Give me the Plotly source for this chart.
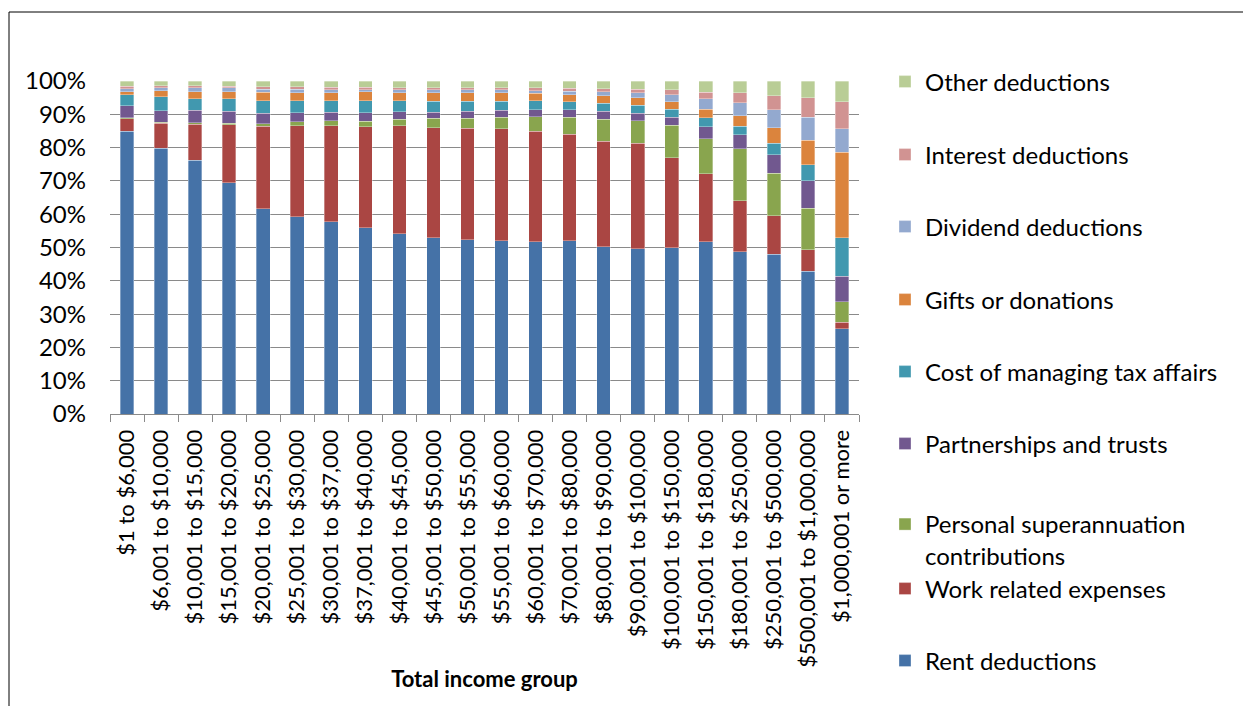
import plotly.graph_objects as go

# Income groups (x categories)
income_groups = [
    "$1 to $6,000", "$6,001 to $10,000", "$10,001 to $15,000", "$15,001 to $20,000",
    "$20,001 to $25,000", "$25,001 to $30,000", "$30,001 to $37,000", "$37,001 to $40,000",
    "$40,001 to $45,000", "$45,001 to $50,000", "$50,001 to $55,000", "$55,001 to $60,000",
    "$60,001 to $70,000", "$70,001 to $80,000", "$80,001 to $90,000", "$90,001 to $100,000",
    "$100,001 to $150,000", "$150,001 to $180,000", "$180,001 to $250,000",
    "$250,001 to $500,000", "$500,001 to $1,000,000", "$1,000,001 or more",
]

# Share of total deductions by type (%)
rent_deductions = [84.9, 79.8, 76.2, 69.4, 61.7, 59.3, 57.7, 55.9, 54.1, 52.9, 52.3,
                   52.1, 51.8, 52.1, 50.3, 49.6, 49.9, 51.8, 48.8, 47.9, 42.9, 25.6]
work_related = [3.8, 7.5, 10.8, 17.5, 24.7, 27.3, 28.9, 30.4, 32.5, 33.1, 33.5,
                33.6, 33.1, 31.9, 31.6, 31.7, 27.0, 20.4, 15.3, 11.7, 6.4, 2.0]
personal_super = [0.2, 0.3, 0.4, 0.4, 0.7, 1.1, 1.5, 1.6, 1.9, 2.8, 3.0,
                  3.4, 4.4, 5.1, 6.6, 6.8, 9.8, 10.5, 15.6, 12.7, 12.5, 6.1]
partnerships_trusts = [3.6, 3.4, 3.8, 3.6, 3.2, 2.8, 2.5, 2.5, 2.3, 1.8, 2.1,
                       2.1, 2.0, 2.2, 2.4, 2.2, 2.4, 3.5, 4.2, 5.5, 8.3, 7.6]
tax_affairs = [3.3, 4.2, 3.4, 3.7, 3.8, 3.5, 3.4, 3.7, 3.2, 3.3, 3.0,
               2.7, 2.7, 2.4, 2.4, 2.4, 2.4, 2.7, 2.5, 3.5, 4.7, 11.7]
gifts_donations = [1.0, 1.8, 2.1, 2.1, 2.5, 2.4, 2.4, 2.6, 2.4, 2.5, 2.5,
                   2.5, 2.3, 2.2, 2.3, 2.3, 2.3, 2.6, 3.1, 4.7, 7.4, 25.6]
dividend_deductions = [0.8, 1.0, 1.3, 1.2, 0.9, 1.1, 1.0, 0.7, 0.9, 0.9, 0.9,
                       0.9, 0.8, 1.0, 1.2, 1.5, 2.0, 3.1, 3.9, 5.3, 6.9, 7.0]
interest_deductions = [0.8, 0.6, 0.6, 0.6, 0.8, 0.7, 0.7, 0.7, 0.7, 0.7, 0.7,
                       0.6, 0.8, 0.9, 0.8, 1.0, 1.5, 2.0, 3.0, 4.2, 5.8, 8.2]
other_deductions = [1.6, 1.4, 1.4, 1.5, 1.7, 1.8, 1.9, 1.9, 2.0, 2.0, 2.0,
                    2.1, 2.1, 2.2, 2.4, 2.5, 2.7, 3.4, 3.6, 4.5, 5.1, 6.2]

series_names = [
    "Rent deductions", "Work related expenses", "Personal superannuation<br>contributions",
    "Partnerships and trusts", "Cost of managing tax affairs", "Gifts or donations",
    "Dividend deductions", "Interest deductions", "Other deductions",
]
series_values = [
    rent_deductions, work_related, personal_super, partnerships_trusts, tax_affairs,
    gifts_donations, dividend_deductions, interest_deductions, other_deductions,
]
series_colors = ["#4572A7", "#AA4643", "#89A54E", "#71588F", "#4198AF",
                 "#DB843D", "#93A9CF", "#D19392", "#B9CD96"]

W, H = 1243, 706
PL, PR, PT, PB = 110, 859, 81, 414   # plot area in pixels
FONT = "Lato"


def px_to_paper_y(py):
    return (PB - py) / (PB - PT)


def px_to_paper_x(px):
    return (px - PL) / (PR - PL)


# legend marker centres (pixels), one legend per series
legend_y_px = [661, 589, 517, 444, 372, 300, 227, 155, 82]

fig = go.Figure()
layout_legends = {}
for i, (name, vals, col) in enumerate(zip(series_names, series_values, series_colors)):
    key = "legend" if i == 0 else f"legend{i + 1}"
    fig.add_trace(go.Bar(
        x=income_groups, y=vals, name=name,
        marker=dict(color=col, line=dict(color="rgba(255,255,255,0.55)", width=0.6)),
        legend=key,
    ))
    two_line = "<br>" in name
    yp = legend_y_px[i] - (15 if two_line else 0)
    layout_legends[key] = dict(
        x=px_to_paper_x(885), xanchor="left",
        y=px_to_paper_y(yp), yanchor="top" if two_line else "middle",
        valign="top",
        bgcolor="rgba(0,0,0,0)",
        font=dict(family=FONT, size=24, color="#000000"),
        itemwidth=30,
    )

fig.update_layout(
    width=W, height=H,
    margin=dict(l=PL, r=W - PR, t=PT, b=H - PB, autoexpand=False),
    paper_bgcolor="white", plot_bgcolor="white",
    barmode="stack", barnorm="percent", bargap=0.6,
    font=dict(family=FONT, size=22, color="#000000"),
    showlegend=True,
    **layout_legends,
)

fig.update_yaxes(
    range=[0, 100], dtick=10, ticksuffix="%",
    showgrid=True, gridcolor="#8a8a8a", gridwidth=1,
    showline=False, zeroline=False, ticks="",
    ticklabelstandoff=23,
    tickfont=dict(family=FONT, size=24, color="#000000"),
    automargin=False,
)
fig.update_xaxes(
    type="category", tickangle=-90,
    showline=True, linecolor="#8a8a8a", linewidth=1,
    ticks="outside", tickson="boundaries", ticklen=7, tickcolor="#8a8a8a",
    ticklabelstandoff=6,
    tickfont=dict(family=FONT, size=22, color="#000000"),
    title=dict(text="<b>Total income group</b>", font=dict(family=FONT, size=22), standoff=4),
    automargin=False,
)

# chart frame (top and left edges)
fig.add_shape(type="line", xref="paper", yref="paper",
              x0=px_to_paper_x(9), x1=px_to_paper_x(W + 5),
              y0=px_to_paper_y(12), y1=px_to_paper_y(12),
              line=dict(color="#000000", width=1))
fig.add_shape(type="line", xref="paper", yref="paper",
              x0=px_to_paper_x(9), x1=px_to_paper_x(9),
              y0=px_to_paper_y(12), y1=px_to_paper_y(H + 5),
              line=dict(color="#000000", width=1))

fig.write_html("out.html")
